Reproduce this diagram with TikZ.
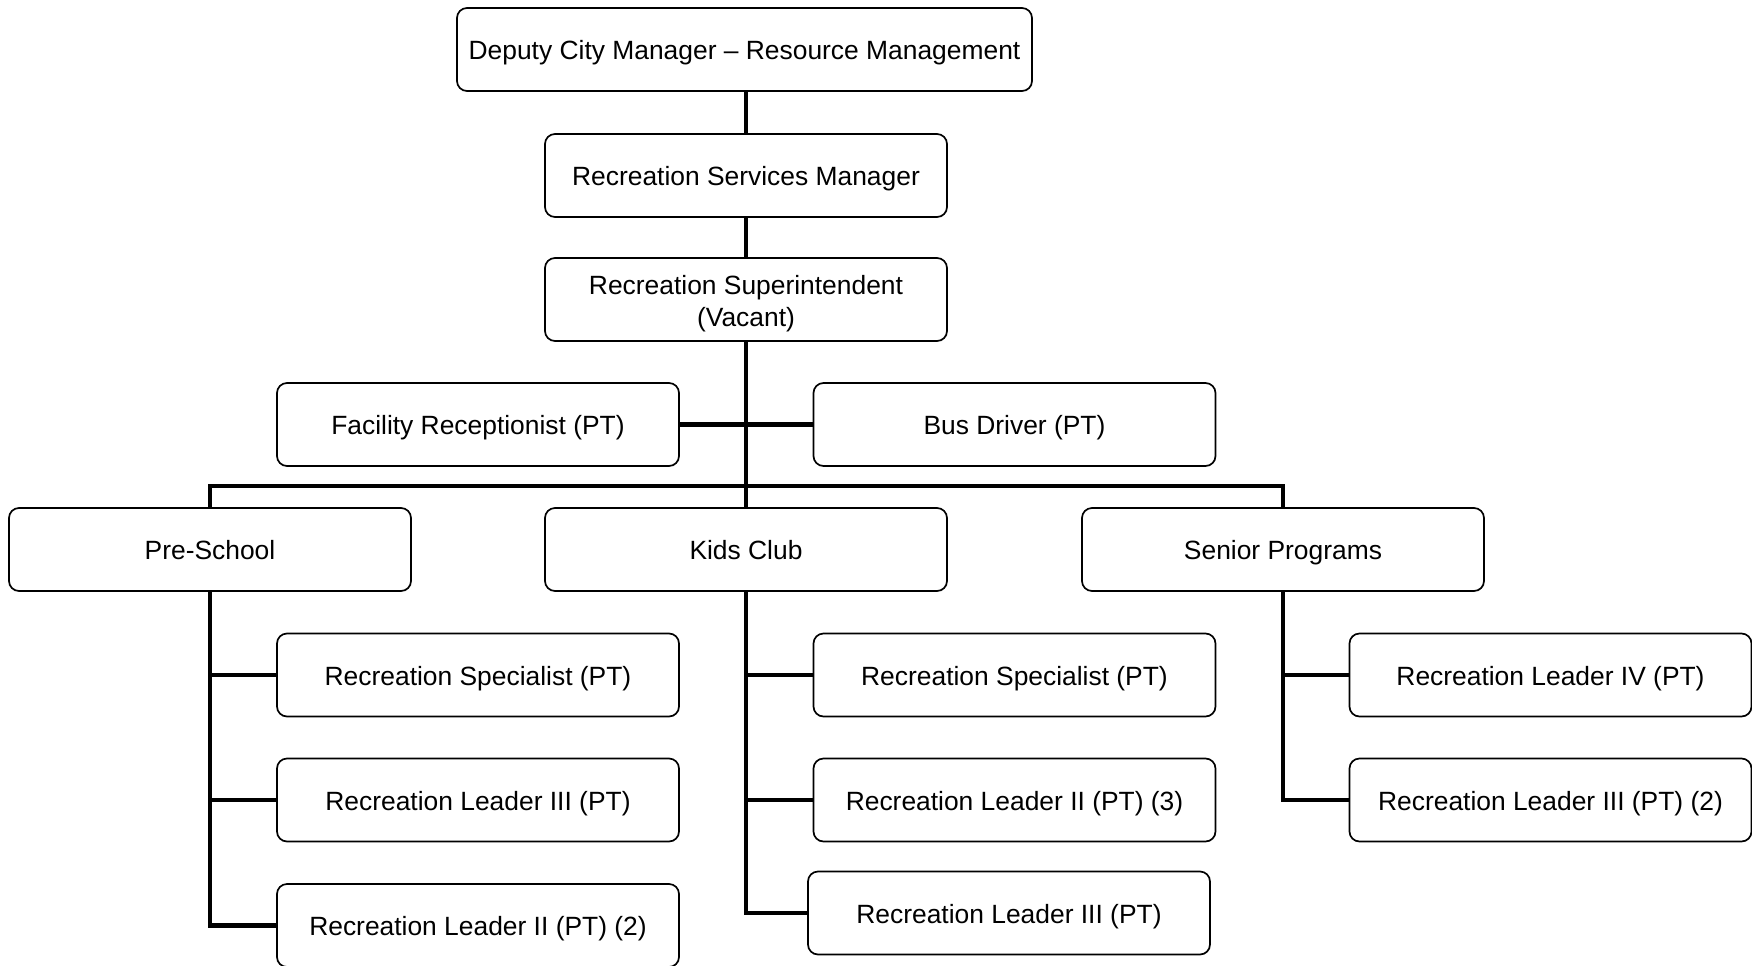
\documentclass[tikz,border=0pt]{standalone}
\usepackage{fontspec}
\setmainfont{Liberation Sans}
\begin{document}
\begin{tikzpicture}[x=0.5pt,y=-0.5pt,
  post/.style={draw=black, line width=0.85pt, rounded corners=5pt, fill=white,
    minimum width=201pt, minimum height=41.5pt, inner sep=0pt, align=center,
    text height=10.4pt, text depth=0pt,
    font=\fontsize{13.2}{16.2}\selectfont},
  wide/.style={post, minimum width=287.5pt},
  textonly/.style={inner sep=0pt, align=center, font=\fontsize{13.2}{16.2}\selectfont},
  link/.style={draw=black, line width=2.25pt}]
\useasboundingbox (0,0) rectangle (1752,965);

% top chain
\node[wide] (dep) at (744.5,49.5) {Deputy City Manager -- Resource Management};
\node[post] (rsm) at (746,175.5) {Recreation Services Manager};
\node[post] (sup) at (746,299.5) {};
\node[textonly] (supt) at ([yshift=-2.2pt]sup.center) {Recreation Superintendent\\(Vacant)};

% staff beside the superintendent
\node[post] (fac) at (478,424.5) {Facility Receptionist (PT)};
\node[post] (bus) at (1014.5,424.5) {Bus Driver (PT)};

% program heads
\node[post] (pre) at (210,549.5) {Pre-School};
\node[post] (kids) at (746,549.5) {Kids Club};
\node[post] (sen) at (1283,549.5) {Senior Programs};

% pre-school staff
\node[post] (p1) at (478,675) {Recreation Specialist (PT)};
\node[post] (p2) at (478,800) {Recreation Leader III (PT)};
\node[post] (p3) at (478,925.5) {Recreation Leader II (PT) (2)};

% kids club staff
\node[post] (k1) at (1014.5,675) {Recreation Specialist (PT)};
\node[post] (k2) at (1014.5,800) {Recreation Leader II (PT) (3)};
\node[post] (k3) at (1009,913) {Recreation Leader III (PT)};

% senior programs staff
\node[post] (s1) at (1550.5,675) {Recreation Leader IV (PT)};
\node[post] (s2) at (1550.5,800) {Recreation Leader III (PT) (2)};

\coordinate (j) at (746,486);

% connectors
\draw[link] (rsm.north |- dep.south) -- (rsm.north);
\draw[link] (rsm.south) -- (sup.north);
\draw[link] (sup.south) -- (kids.north);
\draw[link] (fac.east) -- (bus.west);
\draw[link] (pre.north) |- (j) -| (sen.north);

\draw[link] (pre.south) |- (p3.west);
\draw[link] (pre.south |- p1.west) -- (p1.west);
\draw[link] (pre.south |- p2.west) -- (p2.west);

\draw[link] (kids.south) |- (k3.west);
\draw[link] (kids.south |- k1.west) -- (k1.west);
\draw[link] (kids.south |- k2.west) -- (k2.west);

\draw[link] (sen.south) |- (s2.west);
\draw[link] (sen.south |- s1.west) -- (s1.west);
\end{tikzpicture}
\end{document}
